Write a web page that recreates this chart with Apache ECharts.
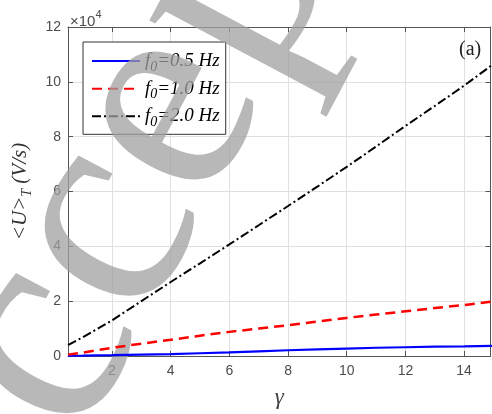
<!DOCTYPE html>
<html>
<head>
<meta charset="utf-8">
<script src="https://cdn.jsdelivr.net/npm/echarts@6/dist/echarts.min.js"></script>
<style>
  html, body { margin: 0; padding: 0; background: #ffffff; }
  #chart { width: 492px; height: 414px; }
</style>
</head>
<body>
<div id="chart"></div>
<script>
// Dimensionless coupling strength gamma
const gamma = [0.5, 1, 2, 3, 4, 5, 6, 7, 8, 9, 10, 11, 12, 13, 14, 15];
// Time-averaged <U>_T in units of 10^4 V/s for three driving frequencies
const u05 = [0.01, 0.015, 0.03, 0.05, 0.07, 0.10, 0.13, 0.17, 0.21, 0.24, 0.27, 0.30, 0.32, 0.34, 0.35, 0.37];
const u10 = [0.05, 0.12, 0.30, 0.45, 0.59, 0.74, 0.88, 1.00, 1.12, 1.26, 1.39, 1.51, 1.63, 1.75, 1.86, 1.99];
const u20 = [0.40, 0.68, 1.30, 2.00, 2.70, 3.38, 4.07, 4.77, 5.47, 6.18, 6.90, 7.64, 8.39, 9.12, 9.86, 10.65];
const freqLabels = ['0.5', '1.0', '2.0'];
const xTicks = [2, 4, 6, 8, 10, 12, 14];

const AXIS = '#555555';
const TICKTXT = '#4d4d4d';
const SERIF = '"Liberation Serif", "DejaVu Serif", serif';
const SANS = '"Liberation Sans", Arial, sans-serif';

const seriesName = f => 'f0=' + f + ' Hz';
const pairs = arr => gamma.map((g, i) => [g, arr[i]]);

const chart = echarts.init(document.getElementById('chart'), null, { renderer: 'canvas' });

const xBase = {
  type: 'value', min: 0.5, max: 14.9,
  axisLine: { show: true, onZero: false, lineStyle: { color: AXIS, width: 1 } },
  axisTick: { show: true, inside: true, length: 5, customValues: xTicks, lineStyle: { color: AXIS } }
};
const yBase = {
  type: 'value', min: 0, max: 12, interval: 2,
  axisLine: { show: true, onZero: false, lineStyle: { color: AXIS, width: 1 } },
  axisTick: { show: true, inside: true, length: 5, lineStyle: { color: AXIS } }
};

const option = {
  animation: false,
  backgroundColor: '#ffffff',
  grid: { left: 68, right: 1.5, top: 27, bottom: 51, containLabel: false },
  xAxis: [
    Object.assign({}, xBase, {
      position: 'bottom',
      axisLabel: { customValues: xTicks, color: TICKTXT, fontSize: 14, fontFamily: SANS, margin: 8 },
      splitLine: { show: true, lineStyle: { color: '#e0e0e0', width: 1 } },
      name: 'γ', nameLocation: 'middle', nameGap: 30,
      nameTextStyle: { fontFamily: SERIF, fontStyle: 'italic', fontSize: 23, color: '#444' }
    }),
    Object.assign({}, xBase, {
      position: 'top',
      axisLabel: { show: false },
      splitLine: { show: false }
    })
  ],
  yAxis: [
    Object.assign({}, yBase, {
      position: 'left',
      axisLabel: { color: TICKTXT, fontSize: 14, fontFamily: SANS, margin: 7 },
      splitLine: { show: true, lineStyle: { color: '#e0e0e0', width: 1 } },
      name: '{a|<U>}{s|T}{a| (V/s)}',
      nameLocation: 'middle', nameGap: 23, nameRotate: 90,
      nameTextStyle: {
        rich: {
          a: { fontFamily: SERIF, fontStyle: 'italic', fontSize: 21, color: '#333', lineHeight: 28, verticalAlign: 'middle' },
          s: { fontFamily: SERIF, fontStyle: 'italic', fontSize: 14, color: '#333', lineHeight: 12, verticalAlign: 'bottom' }
        }
      }
    }),
    Object.assign({}, yBase, {
      position: 'right',
      axisLabel: { show: false },
      splitLine: { show: false }
    })
  ],
  legend: {
    orient: 'vertical',
    left: 83, top: 42,
    padding: [7.5, 6, 5, 8],
    itemWidth: 48, itemHeight: 29, itemGap: 3,
    backgroundColor: '#ffffff',
    borderColor: '#333333', borderWidth: 1, borderRadius: 0,
    z: 1,
    itemStyle: { opacity: 0, color: 'transparent', borderWidth: 0 },
    data: freqLabels.map(seriesName),
    formatter: name => {
      const f = name.replace('f0=', '').replace(' Hz', '');
      return '{f|f}{s|0}{t|=' + f + ' Hz}';
    },
    textStyle: {
      rich: {
        f: { fontFamily: SERIF, fontStyle: 'italic', fontSize: 19, color: '#000', lineHeight: 26, verticalAlign: 'middle' },
        s: { fontFamily: SERIF, fontStyle: 'italic', fontSize: 14, color: '#000', lineHeight: 8, verticalAlign: 'bottom' },
        t: { fontFamily: SERIF, fontStyle: 'italic', fontSize: 19, color: '#000', lineHeight: 26, verticalAlign: 'middle' }
      }
    }
  },
  graphic: {
    elements: [
      {
        type: 'text', left: 70, top: 9, z: 20,
        style: {
          text: '{a|×10}{b|4}',
          rich: {
            a: { fontFamily: SANS, fontSize: 15, fill: TICKTXT, lineHeight: 20, verticalAlign: 'bottom' },
            b: { fontFamily: SANS, fontSize: 11, fill: TICKTXT, lineHeight: 12, verticalAlign: 'top' }
          }
        }
      },
      {
        type: 'text', left: 459, top: 40, z: 20,
        style: { text: '(a)', fontFamily: SERIF, fontSize: 20, fill: '#222' }
      },
      {
        type: 'text', x: -91, y: 598, rotation: 62 * Math.PI / 180, z: 5, silent: true,
        style: {
          text: 'Accepted', fontFamily: SERIF, fontSize: 300,
          fill: 'rgba(160,160,160,0.75)', align: 'left', verticalAlign: 'middle'
        }
      }
    ]
  },
  series: [
    {
      name: seriesName(freqLabels[0]), type: 'line', data: pairs(u05),
      symbol: 'none', showSymbol: false, z: 10, clip: true,
      lineStyle: { color: '#0000ff', width: 2.2, type: 'solid' },
      itemStyle: { color: '#0000ff' }
    },
    {
      name: seriesName(freqLabels[1]), type: 'line', data: pairs(u10),
      symbol: 'none', showSymbol: false, z: 10, clip: true,
      lineStyle: { color: '#ff0000', width: 2.5, type: [10, 6] },
      itemStyle: { color: '#ff0000' }
    },
    {
      name: seriesName(freqLabels[2]), type: 'line', data: pairs(u20),
      symbol: 'none', showSymbol: false, z: 10, clip: true,
      lineStyle: { color: '#000000', width: 2, type: [9, 3, 2, 3] },
      itemStyle: { color: '#000000' }
    }
  ]
};

chart.setOption(option);
</script>
</body>
</html>
